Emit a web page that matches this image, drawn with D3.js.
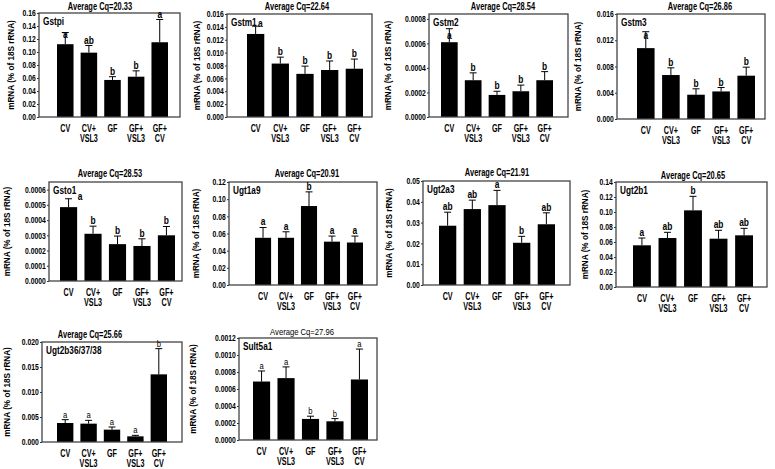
<!DOCTYPE html>
<html><head><meta charset="utf-8">
<script src="https://cdn.jsdelivr.net/npm/d3@7"></script>
<style>
body{margin:0;background:#fff}
svg{display:block}
text{font-family:"Liberation Sans",Arial,sans-serif;fill:#000}
</style>
</head><body>
<svg id="c" width="775" height="469"></svg>
<script>
// ---------- data ----------
const categories = ["CV", "CV+\nVSL3", "GF", "GF+\nVSL3", "GF+\nCV"];
const genes = ["Gstpi", "Gstm1", "Gstm2", "Gstm3", "Gsto1", "Ugt1a9", "Ugt2a3", "Ugt2b1", "Ugt2b36/37/38", "Sult5a1"];
const avgCq = ["20.33", "22.64", "28.54", "26.86", "28.53", "20.91", "21.91", "20.65", "25.66", "27.96"];
const yMax = [0.16, 0.016, 0.00084, 0.016, 0.00065, 0.12, 0.05, 0.14, 0.02, 0.0012];
const tickStep = [0.02, 0.002, 0.0002, 0.004, 0.0001, 0.02, 0.01, 0.02, 0.005, 0.0002];
const tickDecimals = [2, 3, 4, 3, 4, 2, 2, 2, 3, 4];

const gstpiMean = [0.112, 0.099, 0.057, 0.062, 0.115];
const gstpiSem = [0.018, 0.011, 0.005, 0.009, 0.035];
const gstpiLetters = ["a", "ab", "b", "b", "a"];

const gstm1Mean = [0.0129, 0.0083, 0.0067, 0.0073, 0.0075];
const gstm1Sem = [0.0012, 0.0010, 0.0012, 0.0014, 0.0015];
const gstm1Letters = ["a", "b", "b", "b", "b"];

const gstm2Mean = [0.00061, 0.00030, 0.00018, 0.00021, 0.00030];
const gstm2Sem = [0.00011, 0.00006, 0.00003, 0.00005, 0.00007];
const gstm2Letters = ["a", "b", "b", "b", "b"];

const gstm3Mean = [0.0108, 0.0067, 0.0037, 0.0042, 0.0066];
const gstm3Sem = [0.0025, 0.0011, 0.0009, 0.0006, 0.0013];
const gstm3Letters = ["a", "b", "b", "b", "b"];

const gsto1Mean = [0.000485, 0.00031, 0.000242, 0.00023, 0.0003];
const gsto1Sem = [0.000055, 0.00005, 0.000053, 0.000047, 0.000058];
const gsto1Letters = ["a", "b", "b", "b", "b"];

const ugt1a9Mean = [0.055, 0.055, 0.092, 0.0505, 0.0495];
const ugt1a9Sem = [0.012, 0.007, 0.0165, 0.0065, 0.0075];
const ugt1a9Letters = ["a", "a", "b", "a", "a"];

const ugt2a3Mean = [0.0285, 0.0365, 0.0384, 0.0203, 0.0292];
const ugt2a3Sem = [0.0065, 0.0043, 0.0071, 0.0031, 0.0055];
const ugt2a3Letters = ["ab", "ab", "a", "b", "ab"];

const ugt2b1Mean = [0.0556, 0.0653, 0.1022, 0.0644, 0.0689];
const ugt2b1Sem = [0.0097, 0.0076, 0.0187, 0.0112, 0.0093];
const ugt2b1Letters = ["a", "ab", "b", "ab", "ab"];

const ugt2b36Mean = [0.0038, 0.00367, 0.00247, 0.00113, 0.01353];
const ugt2b36Sem = [0.00067, 0.00066, 0.00053, 0.0002, 0.00514];
const ugt2b36Letters = ["a", "a", "a", "a", "b"];

const sult5a1Mean = [0.000688, 0.000728, 0.000248, 0.00022, 0.000712];
const sult5a1Sem = [0.000124, 0.000132, 0.000032, 0.000032, 0.000358];
const sult5a1Letters = ["a", "a", "b", "b", "a"];

const means = [gstpiMean, gstm1Mean, gstm2Mean, gstm3Mean, gsto1Mean, ugt1a9Mean, ugt2a3Mean, ugt2b1Mean, ugt2b36Mean, sult5a1Mean];
const sems = [gstpiSem, gstm1Sem, gstm2Sem, gstm3Sem, gsto1Sem, ugt1a9Sem, ugt2a3Sem, ugt2b1Sem, ugt2b36Sem, sult5a1Sem];
const letters = [gstpiLetters, gstm1Letters, gstm2Letters, gstm3Letters, gsto1Letters, ugt1a9Letters, ugt2a3Letters, ugt2b1Letters, ugt2b36Letters, sult5a1Letters];

// ---------- layout (positions / styles) ----------
const layout = [
  {x0: 39, x1: 180, y0: 13, y1: 117, bl: 57, br: 168, tx: 100, ty: 10, yl: 12},
  {x0: 227, x1: 372, y0: 14, y1: 117, bl: 247, br: 363, tx: 297, ty: 10, yl: 198},
  {x0: 429, x1: 568, y0: 14, y1: 117, bl: 441, br: 553, tx: 503, ty: 10, yl: 389},
  {x0: 617, x1: 765, y0: 14, y1: 119, bl: 637, br: 755, tx: 700, ty: 10, yl: 579},
  {x0: 49, x1: 182, y0: 182, y1: 281, bl: 60, br: 175, tx: 110, ty: 177, yl: 8},
  {x0: 229, x1: 377, y0: 182, y1: 285, bl: 255, br: 363, tx: 307, ty: 177, yl: 197},
  {x0: 423, x1: 570, y0: 181, y1: 285, bl: 439, br: 555, tx: 497, ty: 176, yl: 390},
  {x0: 616, x1: 767, y0: 182, y1: 287, bl: 633, br: 753, tx: 693, ty: 179, yl: 586},
  {x0: 42, x1: 182, y0: 342, y1: 442, bl: 57, br: 167, tx: 90, ty: 338, yl: 8, smallLetters: true},
  {x0: 239, x1: 377, y0: 338, y1: 440, bl: 253, br: 368, tx: 302, ty: 335, yl: 194, smallLetters: true, plainTitle: true}
];

const svg = d3.select("#c");

function label(g, x, y, s, size, bold, anchor, sx) {
  return g.append("text")
    .attr("transform", `translate(${x},${y}) scale(${sx},1)`)
    .attr("text-anchor", anchor)
    .style("font-size", size + "px")
    .style("font-weight", bold ? "bold" : "normal")
    .text(s);
}
function hit(a, b) {
  return a.left < b.right && a.right > b.left && a.top < b.bottom && a.bottom > b.top;
}

genes.forEach((gene, i) => {
  const L = layout[i];
  const g = svg.append("g");
  const y = d3.scaleLinear().domain([0, yMax[i]]).range([L.y1, L.y0]);
  const x = d3.scaleBand().domain(categories).range([L.bl, L.br]).paddingInner(0.3).paddingOuter(0);
  const data = categories.map((c, k) => ({c, m: means[i][k], s: sems[i][k], l: letters[i][k]}));

  // y axis
  const ticks = d3.range(0, Math.round(yMax[i] / tickStep[i] + 1e-6) + 1).map(k => k * tickStep[i]).filter(v => v <= yMax[i] + 1e-12);
  const ax = g.append("g").attr("transform", `translate(${L.x0},0)`)
    .call(d3.axisLeft(y).tickValues(ticks).tickFormat(d3.format(`.${tickDecimals[i]}f`)).tickSize(2).tickPadding(2));
  ax.select(".domain").remove();
  ax.selectAll(".tick line").attr("stroke", "#333");
  ax.selectAll(".tick text")
    .attr("transform", "scale(0.8,1)")
    .style("font-size", "8.5px").style("font-weight", "bold")
    .style("font-family", '"Liberation Sans",Arial,sans-serif');

  // bars
  g.selectAll("rect.bar").data(data).join("rect")
    .attr("class", "bar")
    .attr("x", d => x(d.c)).attr("width", x.bandwidth())
    .attr("y", d => y(d.m)).attr("height", d => L.y1 - y(d.m))
    .attr("fill", "#000");

  // frame
  g.append("rect").attr("x", L.x0).attr("y", L.y0).attr("width", L.x1 - L.x0).attr("height", L.y1 - L.y0)
    .attr("fill", "none").attr("stroke", "#444").attr("stroke-width", 1.3);

  // gene label
  const gl = label(g, L.x0 + 4, L.y0 + 12, gene, 11, true, "start", 0.75);
  const gb = gl.node().getBoundingClientRect();

  // title
  let tt;
  if (L.plainTitle) tt = label(g, L.tx, L.ty, "Average Cq=" + avgCq[i], 9, false, "middle", 0.85);
  else tt = label(g, L.tx, L.ty, "Average Cq=" + avgCq[i], 11, true, "middle", 0.68);
  const tb = tt.node().getBoundingClientRect();

  // error bars (upper only) + significance letters
  data.forEach(d => {
    const cx = x(d.c) + x.bandwidth() / 2;
    const top = y(d.m + d.s);
    g.append("line").attr("x1", cx).attr("x2", cx).attr("y1", y(d.m)).attr("y2", top).attr("stroke", "#000").attr("stroke-width", 1);
    g.append("line").attr("x1", cx - 3.5).attr("x2", cx + 3.5).attr("y1", top).attr("y2", top).attr("stroke", "#000").attr("stroke-width", 1);
    const size = L.smallLetters ? 8.5 : 10.5, bold = !L.smallLetters, sx = L.smallLetters ? 0.9 : 0.8;
    let by = top - 2;
    const t = label(g, cx, by, d.l, size, bold, "middle", sx);
    let lb = t.node().getBoundingClientRect();
    if (hit(lb, tb)) {
      by = by + (tb.bottom - lb.top) + 0.3;
      t.attr("transform", `translate(${cx},${by}) scale(${sx},1)`);
      lb = t.node().getBoundingClientRect();
    }
    if (hit(lb, gb)) {
      const ny = by + (gb.bottom - lb.top) + 0.3;
      if (ny <= y(d.m) - 1) {
        t.attr("transform", `translate(${cx},${ny}) scale(${sx},1)`);
      } else {
        const nx = gb.right + lb.width / 2 + 0.5;
        t.attr("transform", `translate(${nx},${by + 3}) scale(${sx},1)`);
      }
    }
  });

  // y label
  g.append("text")
    .attr("transform", `translate(${L.yl},${(L.y0 + L.y1) / 2}) rotate(-90) scale(0.78,0.9)`)
    .attr("text-anchor", "middle").attr("dominant-baseline", "middle")
    .style("font-size", "10.5px").style("font-weight", "bold")
    .text("mRNA (% of 18S rRNA)");

  // category labels
  categories.forEach(c => {
    const cx = x(c) + x.bandwidth() / 2;
    c.split("\n").forEach((line, li) => {
      label(g, cx, L.y1 + 15 + li * 10, line, 10, true, "middle", 0.72);
    });
  });
});
</script>
</body></html>
